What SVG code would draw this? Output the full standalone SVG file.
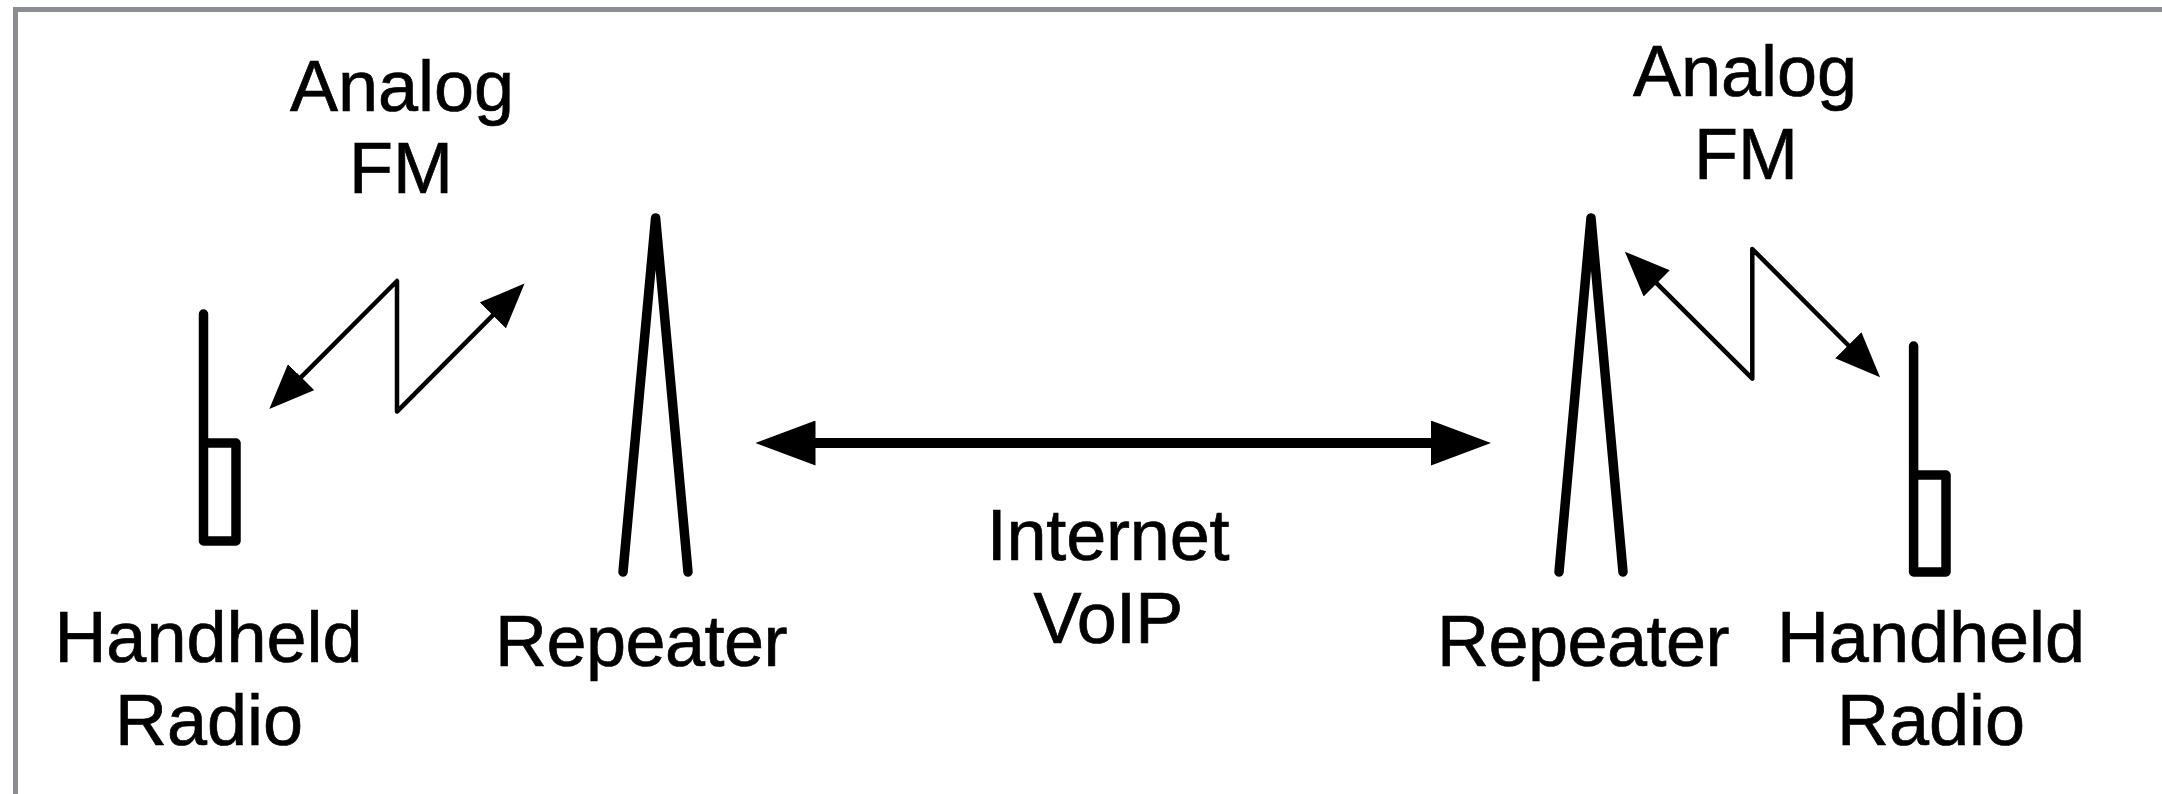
<svg xmlns="http://www.w3.org/2000/svg" width="2162" height="794" viewBox="0 0 2162 794">
<style>
text{font-family:"Liberation Sans",Arial,sans-serif;font-size:72px;fill:#000;stroke:#000;stroke-width:.7px;text-anchor:middle}
.rep{letter-spacing:-.5px}
.ant{fill:none;stroke:#000;stroke-width:9.5;stroke-linecap:round;stroke-linejoin:round}
.zig{fill:none;stroke:#000;stroke-width:4.5;stroke-linejoin:round}
</style>
<defs>
<marker id="hz" markerUnits="userSpaceOnUse" markerWidth="45" markerHeight="37" viewBox="0 0 45 37" refX="1" refY="18.5" orient="auto-start-reverse"><path d="M0 0L45 18.5L0 37Z" fill="#000"/></marker>
<marker id="hb" markerUnits="userSpaceOnUse" markerWidth="60" markerHeight="45" viewBox="0 0 60 45" refX="1" refY="22.5" orient="auto-start-reverse"><path d="M0 0L60 22.5L0 45Z" fill="#000"/></marker>
</defs>
<rect width="2162" height="794" fill="#fff"/>
<path id="frame" d="M2162 9.5H15.5V794" fill="none" stroke="#8a8d91" stroke-width="5"/>
<g id="connectors">
<path class="zig" d="M300.4 377.8L397 281V411.6L493.5 314.7" marker-start="url(#hz)" marker-end="url(#hz)"/>
<path class="zig" d="M1656 282.7L1752.3 378.7V249L1849 346" marker-start="url(#hz)" marker-end="url(#hz)"/>
<path d="M814.5 443H1432" fill="none" stroke="#000" stroke-width="10" marker-start="url(#hb)" marker-end="url(#hb)"/>
</g>
<g id="radio-left"><path class="ant" d="M203.5 314V541H236V443H203.5"/><text x="208.5" y="662">Handheld</text><text x="209" y="745">Radio</text></g>
<g id="repeater-left"><path class="ant" d="M623 572L655.6 218L688 572"/><text class="rep" x="641" y="666">Repeater</text></g>
<g id="repeater-right"><path class="ant" d="M1559 572L1591 218L1623 572"/><text class="rep" x="1583" y="666">Repeater</text></g>
<g id="radio-right"><path class="ant" d="M1913.6 346V572H1946V475H1913.6"/><text x="1931" y="662">Handheld</text><text x="1931" y="745">Radio</text></g>
<g id="label-fm-left"><text x="402" y="111.4">Analog</text><text x="401" y="193.4">FM</text></g>
<g id="label-fm-right"><text x="1745" y="96">Analog</text><text x="1746" y="178.7">FM</text></g>
<g id="label-voip"><text x="1108" y="560" letter-spacing="-.2">Internet</text><text x="1108" y="643" letter-spacing="-.8">VoIP</text></g>
</svg>
